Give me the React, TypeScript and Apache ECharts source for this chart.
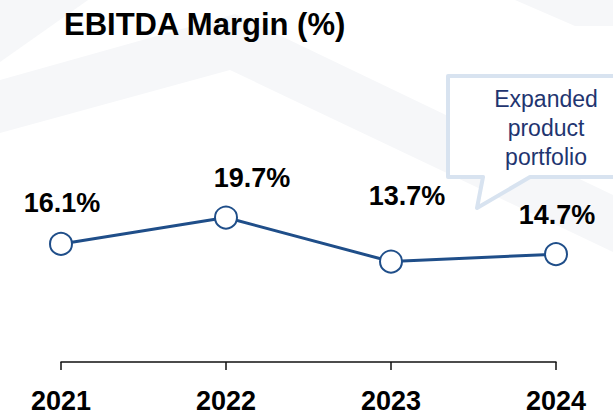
import React, { useEffect, useRef } from "react";
import * as echarts from "echarts";

const years = ["2021", "2022", "2023", "2024"];
const margins = [16.1, 19.7, 13.7, 14.7];
const labelOffsets = [
  [1, -41],
  [26, -40],
  [16, -66],
  [1, -39],
];
const calloutText = ["Expanded", "product", "portfolio"];
const titleText = "EBITDA Margin (%)";

const FONT = "'Liberation Sans', Arial, sans-serif";
const BLUE = "#1F4E89";
const BAND = "#f6f7f9";

export default function App() {
  const ref = useRef<HTMLDivElement>(null);
  useEffect(() => {
    if (!ref.current) return;
    const chart = echarts.init(ref.current, null, { renderer: "svg" });
    chart.setOption({
      animation: false,
      backgroundColor: "#ffffff",
      grid: { left: 61, right: 57, bottom: 52, height: 220 },
      xAxis: {
        type: "category",
        data: years,
        boundaryGap: false,
        axisLine: { lineStyle: { color: "#111", width: 1.5 } },
        axisTick: { length: 8, interval: 0, lineStyle: { color: "#111", width: 1.5 } },
        axisLabel: {
          margin: 25,
          fontSize: 27,
          fontWeight: "bold",
          color: "#000",
          fontFamily: FONT,
          interval: 0,
        },
      },
      yAxis: { type: "value", min: 0, max: 30, show: false, splitLine: { show: false } },
      graphic: [
        {
          type: "polygon",
          z: -10,
          silent: true,
          shape: { points: [[0, 80], [235, 14], [613, 195], [613, 252], [230, 70], [0, 133]] },
          style: { fill: BAND },
        },
        {
          type: "polygon",
          z: -10,
          silent: true,
          shape: { points: [[0, 0], [88, 0], [0, 62]] },
          style: { fill: BAND },
        },
        {
          type: "polygon",
          z: -10,
          silent: true,
          shape: { points: [[515, 0], [613, 0], [613, 26], [575, 26]] },
          style: { fill: BAND },
        },
        {
          type: "text",
          left: 64,
          top: 9,
          style: {
            text: titleText,
            fontSize: 31,
            fontWeight: "bold",
            fontFamily: FONT,
            fill: "#000",
          },
        },
        {
          type: "polygon",
          z: 5,
          shape: {
            points: [[448, 76], [640, 76], [640, 177], [530, 177], [477, 208], [483, 177], [448, 177]],
          },
          style: { fill: "#ffffff", stroke: "#d8e3f0", lineWidth: 4, lineJoin: "round" },
        },
        {
          type: "text",
          z: 6,
          x: 546,
          y: 128,
          style: {
            text: calloutText.join("\n"),
            fontSize: 23,
            lineHeight: 29,
            fontFamily: FONT,
            fill: "#1f3570",
            align: "center",
            verticalAlign: "middle",
          },
        },
      ],
      series: [
        {
          type: "line",
          data: margins.map((v, i) => ({
            value: v,
            label: { offset: labelOffsets[i] },
          })),
          symbol: "circle",
          symbolSize: 22,
          lineStyle: { color: BLUE, width: 3 },
          itemStyle: { color: "#ffffff", borderColor: BLUE, borderWidth: 2 },
          label: {
            show: true,
            position: "inside",
            formatter: "{c}%",
            fontSize: 27,
            fontWeight: "bold",
            fontFamily: FONT,
            color: "#000",
            textBorderWidth: 0,
          },
        },
      ],
    });
    return () => chart.dispose();
  }, []);
  return (
    <div
      ref={ref}
      style={{ position: "fixed", left: 0, top: 0, width: 613, height: 414 }}
    />
  );
}
